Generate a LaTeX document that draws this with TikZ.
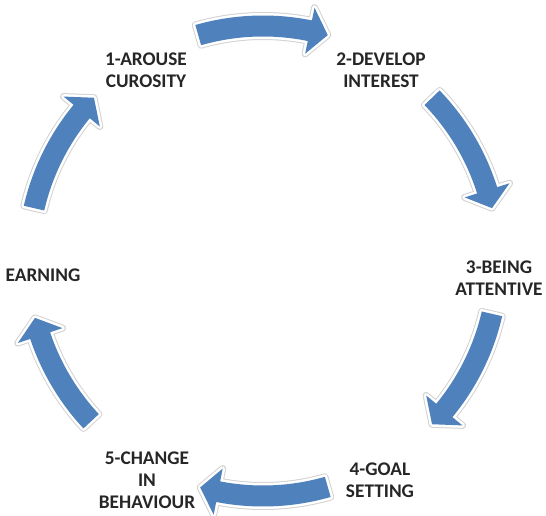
\documentclass[tikz,border=0pt]{standalone}
\usepackage{fontspec}
\setmainfont{Carlito}
\definecolor{arrowblue}{HTML}{4F81BD}
\begin{document}
\begin{tikzpicture}[x=1pt,y=1pt,
	cyclearrow/.style={draw=white,line width=5pt,line join=round,
		preaction={draw=gray!35,line width=7pt,line join=round},
		postaction={fill=arrowblue}},
	lbl/.style={align=center,text=black!85,inner sep=0pt,
		font=\fontsize{19.3}{22}\selectfont\bfseries}]
			\useasboundingbox (0,0) rectangle (546,516);
			%			Nhãn
			\node[lbl] (arouse) at (146,446) {1-AROUSE\\CUROSITY};
			\node[lbl] (develop) at (381,446) {2-DEVELOP\\INTEREST};
			\node[lbl] (attentive) at (499,238) {3-BEING\\ATTENTIVE};
			\node[lbl] (goal) at (380,36) {4-GOAL\\SETTING};
			\node[lbl] (change) at (147,36) {5-CHANGE\\IN\\BEHAVIOUR};
			\node[lbl] (earning) at (43,241) {EARNING};
			%			Mũi tên
			\begin{scope}[shift={(263,255)}]
			\draw[cyclearrow] (106:245.5pt) arc (106:78.5:245.5pt) -- (78.5:258.5pt) -- (74:235pt) -- (78.5:211.5pt) -- (78.5:224.5pt) arc (78.5:106:224.5pt) -- cycle;
			\draw[cyclearrow] (44:245.5pt) arc (44:17.5:245.5pt) -- (17.5:258.5pt) -- (13:235pt) -- (17.5:211.5pt) -- (17.5:224.5pt) arc (17.5:44:224.5pt) -- cycle;
			\draw[cyclearrow] (-13:245.5pt) arc (-13:-39.5:245.5pt) -- (-39.5:258.5pt) -- (-44:235pt) -- (-39.5:211.5pt) -- (-39.5:224.5pt) arc (-39.5:-13:224.5pt) -- cycle;
			\draw[cyclearrow] (-74:245.5pt) arc (-74:-101:245.5pt) -- (-101:258.5pt) -- (-105.5:235pt) -- (-101:211.5pt) -- (-101:224.5pt) arc (-101:-74:224.5pt) -- cycle;
			\draw[cyclearrow] (-137:245.5pt) arc (-137:-161.5:245.5pt) -- (-161.5:258.5pt) -- (-166:235pt) -- (-161.5:211.5pt) -- (-161.5:224.5pt) arc (-161.5:-137:224.5pt) -- cycle;
			\draw[cyclearrow] (167:245.5pt) arc (167:140.5:245.5pt) -- (140.5:258.5pt) -- (136:235pt) -- (140.5:211.5pt) -- (140.5:224.5pt) arc (140.5:167:224.5pt) -- cycle;
			\end{scope}
\end{tikzpicture}
\end{document}
